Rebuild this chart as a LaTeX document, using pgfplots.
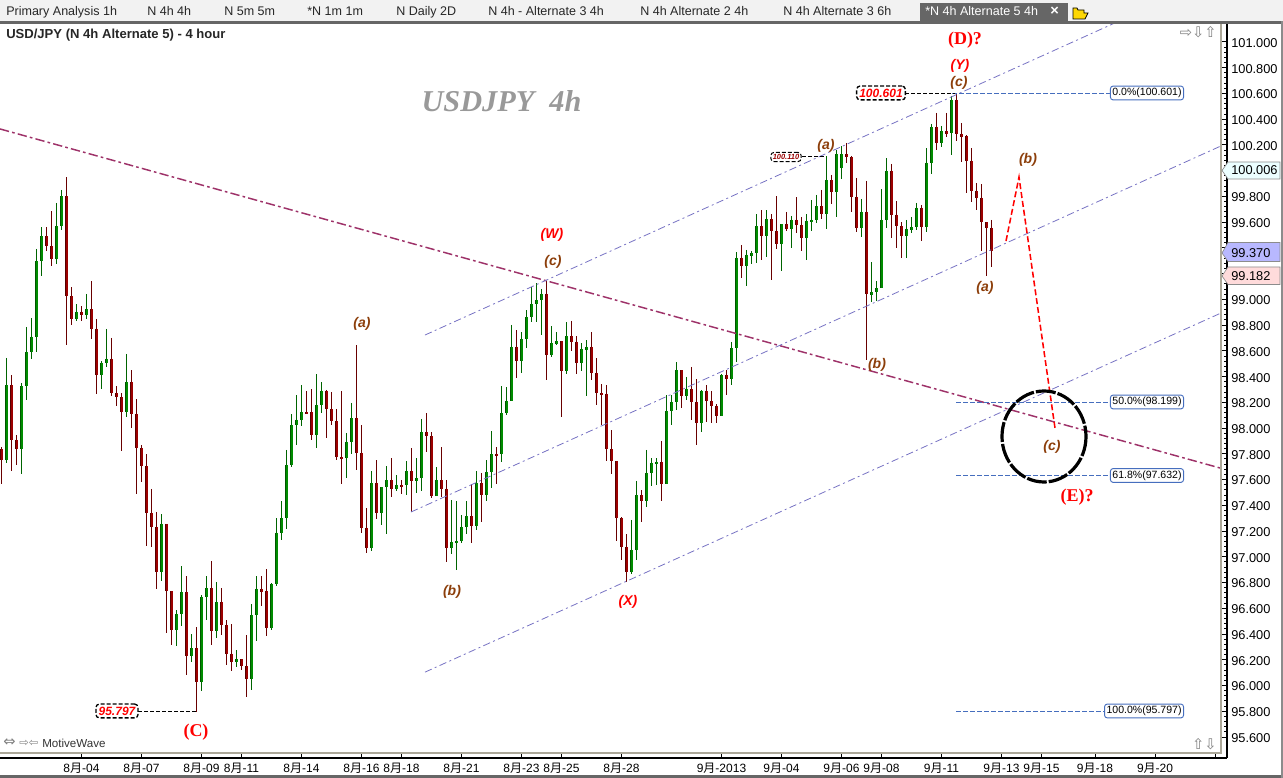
\documentclass[border=0pt]{standalone}
\usepackage{fontspec}
\setmainfont{Liberation Sans}
\newfontfamily\serif{Liberation Serif}
\newfontfamily\cjk{Noto Sans CJK SC}
\newfontfamily\sym{DejaVu Sans}
\usepackage{pgfplots}
\usepackage{pgfplotstable}
\pgfplotsset{compat=1.18}
\definecolor{gw}{RGB}{0,100,0}
\definecolor{gb}{RGB}{0,140,0}
\definecolor{gl}{RGB}{0,85,0}
\definecolor{rw}{RGB}{105,0,0}
\definecolor{rb}{RGB}{155,0,0}
\definecolor{rl}{RGB}{85,0,0}
\definecolor{maroon}{RGB}{158,50,105}
\definecolor{chan}{RGB}{118,114,195}
\definecolor{fib}{RGB}{70,110,190}
\definecolor{wave}{RGB}{140,62,10}
\definecolor{frame}{RGB}{172,168,153}
\newcommand{\M}{{\cjk 月}}
\pgfplotstableread{
x hi lo top bot
1 98.545 97.729 98.334 97.752
4 98.350 97.643 98.326 97.837
5 98.786 98.218 98.591 98.326
6 98.855 98.537 98.708 98.591
7 99.392 98.591 99.298 98.708
8 99.562 99.181 99.492 99.298
11 99.749 99.275 99.570 99.314
12 99.850 99.539 99.803 99.570
15 98.964 98.832 98.902 98.848
17 99.042 98.848 98.925 98.879
20 98.521 98.303 98.506 98.412
21 98.770 98.475 98.537 98.506
25 98.576 98.086 98.358 98.125
32 97.332 96.812 97.255 96.881
35 96.586 96.307 96.555 96.431
36 96.928 96.462 96.726 96.555
38 96.400 96.182 96.291 96.229
40 96.703 95.957 96.687 96.027
41 96.850 96.509 96.757 96.687
43 96.804 96.369 96.648 96.423
47 96.276 96.143 96.206 96.182
50 96.633 95.965 96.547 96.050
51 96.850 96.346 96.750 96.547
54 96.796 96.431 96.788 96.446
55 97.301 96.773 97.185 96.788
56 97.433 97.130 97.301 97.185
57 97.830 97.216 97.713 97.301
58 98.109 97.697 98.024 97.713
59 98.257 97.868 98.063 98.024
60 98.334 98.016 98.125 98.063
63 98.420 97.845 98.179 97.946
64 98.358 98.117 98.288 98.179
69 97.962 97.612 97.892 97.767
70 98.195 97.798 98.078 97.892
74 97.666 97.045 97.573 97.068
76 97.542 97.247 97.542 97.340
77 97.705 97.177 97.596 97.542
79 97.635 97.511 97.558 97.527
81 97.744 97.480 97.666 97.558
83 97.767 97.496 97.612 97.589
84 98.071 97.511 97.969 97.612
87 97.697 97.472 97.596 97.472
90 97.441 97.021 97.115 97.068
91 97.433 96.897 97.122 97.107
92 97.324 97.107 97.231 97.122
93 97.433 97.177 97.317 97.231
95 97.666 97.208 97.573 97.239
97 97.752 97.433 97.658 97.480
98 97.977 97.535 97.798 97.658
100 98.326 97.736 98.117 97.798
101 98.319 98.101 98.210 98.117
102 98.801 98.210 98.630 98.210
104 98.746 98.428 98.692 98.521
105 98.917 98.622 98.863 98.692
106 99.096 98.824 98.964 98.863
107 99.127 98.824 98.995 98.964
108 99.081 98.723 99.042 98.995
110 98.793 98.552 98.661 98.568
111 98.746 98.645 98.676 98.653
113 98.824 98.420 98.715 98.443
116 98.661 98.443 98.614 98.506
117 98.684 98.249 98.630 98.607
126 97.286 96.866 97.053 96.881
127 97.589 96.975 97.480 97.053
129 97.830 97.387 97.651 97.433
130 97.767 97.550 97.729 97.651
131 97.767 97.558 97.736 97.721
133 98.257 97.565 98.132 97.565
134 98.257 98.024 98.202 98.132
135 98.513 98.140 98.451 98.202
137 98.397 98.218 98.303 98.249
140 98.296 97.969 98.288 98.039
144 98.420 98.094 98.412 98.094
146 98.669 98.334 98.622 98.381
147 99.368 98.513 99.322 98.622
149 99.384 99.104 99.345 99.259
150 99.376 99.275 99.360 99.337
151 99.663 99.283 99.570 99.360
153 99.694 99.329 99.624 99.492
156 99.585 99.220 99.585 99.430
158 99.648 99.399 99.617 99.547
161 99.663 99.306 99.609 99.477
162 99.772 99.531 99.617 99.601
163 99.811 99.593 99.725 99.617
165 100.114 99.547 99.927 99.663
167 100.160 99.640 100.129 99.834
168 100.191 99.935 100.129 100.021
172 99.780 99.485 99.679 99.555
174 99.290 98.980 99.057 99.034
175 99.142 98.987 99.088 99.057
176 99.857 99.088 99.617 99.088
177 100.098 99.555 99.997 99.617
181 99.617 99.321 99.547 99.492
182 99.640 99.516 99.562 99.539
183 99.749 99.539 99.710 99.562
185 100.176 99.523 100.060 99.562
186 100.363 99.974 100.339 100.060
188 100.347 100.184 100.308 100.215
190 100.580 100.122 100.549 100.292
}\greens
\pgfplotstableread{
x hi lo top bot
0 97.853 97.565 97.837 97.752
2 98.412 97.666 98.334 97.907
3 97.946 97.713 97.907 97.837
9 99.562 99.376 99.492 99.414
10 99.686 99.259 99.414 99.314
13 99.950 98.645 99.803 99.026
14 99.096 98.801 99.026 98.848
16 98.948 98.832 98.902 98.879
18 99.142 98.692 98.925 98.770
19 98.848 98.265 98.770 98.412
22 98.700 98.249 98.537 98.272
23 98.326 98.171 98.272 98.241
24 98.272 97.822 98.241 98.125
26 98.451 98.000 98.358 98.109
27 98.226 97.488 98.109 97.845
28 97.868 97.581 97.845 97.705
29 97.798 97.083 97.705 97.340
30 97.527 97.076 97.340 97.231
31 97.348 96.750 97.231 96.881
33 97.255 96.408 97.255 96.734
34 96.734 96.315 96.734 96.431
37 96.850 96.081 96.726 96.229
39 96.454 95.797 96.291 96.027
42 96.967 96.315 96.757 96.423
44 96.757 96.392 96.648 96.470
45 96.509 96.159 96.470 96.245
46 96.478 96.112 96.245 96.182
48 96.206 96.120 96.206 96.151
49 96.392 95.910 96.151 96.050
52 96.850 96.617 96.750 96.726
53 96.905 96.384 96.734 96.446
61 98.288 98.109 98.125 98.109
62 98.303 97.907 98.125 97.946
65 98.296 97.923 98.288 98.148
66 98.280 98.024 98.148 98.055
67 98.148 97.752 98.055 97.775
68 98.288 97.565 97.775 97.760
71 98.645 97.674 98.078 97.806
72 98.024 97.185 97.806 97.224
73 97.379 97.029 97.224 97.068
75 97.752 97.294 97.573 97.340
78 97.767 97.464 97.596 97.527
80 97.596 97.488 97.558 97.542
82 97.845 97.348 97.666 97.589
85 98.117 97.814 97.969 97.938
86 97.969 97.457 97.938 97.472
88 97.853 97.464 97.596 97.527
89 97.596 96.959 97.527 97.068
94 97.565 97.107 97.317 97.239
96 97.651 97.270 97.573 97.480
99 97.853 97.565 97.798 97.783
103 98.762 98.389 98.630 98.521
109 99.142 98.373 99.042 98.568
112 98.676 98.086 98.676 98.443
114 98.832 98.599 98.715 98.669
115 98.715 98.420 98.669 98.506
118 98.746 98.373 98.630 98.428
119 98.544 98.179 98.428 98.272
120 98.342 98.024 98.272 98.257
121 98.334 97.744 98.265 97.837
122 97.985 97.643 97.837 97.744
123 97.744 97.122 97.744 97.301
124 97.309 96.975 97.301 97.076
125 97.177 96.804 97.076 96.881
128 97.519 97.270 97.480 97.433
132 97.899 97.433 97.736 97.565
136 98.451 98.156 98.451 98.249
138 98.475 98.063 98.303 98.202
139 98.381 97.868 98.202 98.039
141 98.334 98.047 98.288 98.210
142 98.288 98.039 98.210 98.171
143 98.187 98.039 98.171 98.094
145 98.451 98.257 98.412 98.381
148 99.422 99.166 99.322 99.259
152 99.694 99.306 99.570 99.492
154 99.663 99.150 99.624 99.531
155 99.803 99.391 99.531 99.430
157 99.679 99.531 99.585 99.547
159 99.795 99.516 99.617 99.578
160 99.640 99.376 99.578 99.477
164 99.850 99.624 99.725 99.663
166 99.967 99.741 99.927 99.834
169 100.215 100.060 100.129 100.106
170 100.114 99.679 100.106 99.795
171 99.943 99.523 99.795 99.555
173 99.920 98.529 99.679 99.042
178 100.052 99.477 99.997 99.656
179 99.764 99.399 99.656 99.570
180 99.601 99.321 99.570 99.492
184 99.733 99.454 99.710 99.562
187 100.448 100.160 100.339 100.215
189 100.448 100.261 100.308 100.285
191 100.601 100.230 100.549 100.285
192 100.370 100.067 100.285 100.261
193 100.277 99.826 100.269 100.075
194 100.176 99.756 100.075 99.842
195 99.904 99.694 99.842 99.788
196 99.896 99.376 99.788 99.601
197 99.601 99.181 99.601 99.555
198 99.617 99.252 99.555 99.376
}\reds
\newcommand{\candles}[4]{%
 \addplot[draw=none,mark=none,forget plot,error bars/.cd,y dir=minus,y explicit,error mark=none,
   error bar style={solid,draw=#2,line width=0.75pt}] table[x=x,y=hi,y error expr=\thisrow{hi}-\thisrow{lo}] {#1};
 \addplot[draw=none,mark=none,forget plot,error bars/.cd,y dir=minus,y explicit,error mark=none,
   error bar style={solid,draw=#3,line width=2.5pt}] table[x=x,y=top,y error expr=\thisrow{top}-\thisrow{bot}] {#1};
 \addplot[draw=none,mark=none,forget plot,error bars/.cd,y dir=minus,y explicit,error mark=none,
   error bar style={solid,draw=#4,line width=0.8pt,xshift=-0.85pt}] table[x=x,y=top,y error expr=\thisrow{top}-\thisrow{bot}] {#1};
}
\tikzset{
 chanl/.style={chan,line width=0.6pt,dash pattern=on 5.5pt off 2.5pt on 1.5pt off 2.5pt},
 fibl/.style={fib,line width=0.75pt,dash pattern=on 3.75pt off 1.5pt},
 calll/.style={black,line width=1pt,dash pattern=on 3pt off 1.5pt},
 px/.style={x=0.75pt,y=-0.75pt,shift={(0pt,568.5pt)}},
 brown lab/.style={wave,font=\fontsize{10.5}{12}\selectfont\bfseries\itshape},
 redi lab/.style={red,font=\fontsize{10.5}{12}\selectfont\bfseries\itshape},
 reds lab/.style={red,font=\fontsize{13.5}{15}\selectfont\serif\bfseries},
 tab/.style={anchor=west,inner sep=0pt,text height=7pt,text depth=2pt,font=\fontsize{9.4}{11}\selectfont,text=black!85},
 fibbox/.style={draw=fib,fill=white,rounded corners=2pt,line width=0.7pt,inner xsep=1.5pt,inner ysep=1.5pt,font=\fontsize{7.9}{9}\selectfont,text=black},
 callbox/.style={draw=black,fill=white,rounded corners=2.5pt,line width=1pt,dash pattern=on 3pt off 1.5pt,inner xsep=2pt,inner ysep=2pt,text=red,font=\fontsize{9}{11}\selectfont\bfseries\itshape},
}
\begin{document}
\begin{tikzpicture}
\useasboundingbox (0pt,-15pt) rectangle (962.25pt,568.5pt);
\begin{axis}[
 at={(0pt,0pt)},anchor=south west,scale only axis,
 width=920.25pt,height=552pt,
 xmin=-0.3,xmax=245.1,ymin=95.437,ymax=101.155,
 axis x line=bottom,axis y line=right,axis line style={-,line width=0.9pt,black},
 tick align=inside,tick style={black,line width=0.75pt},
 major tick length=4.5pt,minor tick length=2.25pt,
 xtick={16,28,40,48,60,72,80,92,104,112,124,144,156,168,176,188,200,208,218.7,230.7,242.7},
 xticklabels={8\M-04,8\M-07,8\M-09,8\M-11,8\M-14,8\M-16,8\M-18,8\M-21,8\M-23,8\M-25,8\M-28,9\M-2013,9\M-04,9\M-06,9\M-08,9\M-11,9\M-13,9\M-15,9\M-18,9\M-20,{}},
 x tick label style={font=\fontsize{9}{10}\selectfont,inner sep=0pt,yshift=-3.5pt},
 ytick={95.6,95.8,96.0,96.2,96.4,96.6,96.8,97.0,97.2,97.4,97.6,97.8,98.0,98.2,98.4,98.6,98.8,99.0,99.2,99.4,99.6,99.8,100.0,100.2,100.4,100.6,100.8,101.0},
 minor y tick num=4,
 scaled y ticks=false,
 y tick label style={font=\fontsize{9.6}{11}\selectfont,inner sep=0pt,xshift=3pt,yshift=-0.75pt,
   /pgf/number format/.cd,fixed,fixed zerofill,precision=3,assume math mode=true},
 clip=true,
]
\candles{\greens}{gw}{gb}{gl}
\candles{\reds}{rw}{rb}{rl}
% trend lines
\addplot[maroon,line width=1.1pt,dash pattern=on 7pt off 2.4pt on 2pt off 2.4pt,forget plot] coordinates {(-0.3,100.324) (243.7,97.690)};
\addplot[chanl,forget plot] coordinates {(84.7,98.723) (223.1,101.155)};
\addplot[chanl,forget plot] coordinates {(81.9,97.348) (243.9,100.192)};
\addplot[chanl,forget plot] coordinates {(84.7,96.104) (243.9,98.894)};
% wave projection
\addplot[red,line width=1.15pt,dash pattern=on 4.5pt off 2.2pt,forget plot] coordinates {(200.9,99.453) (203.5,99.950) (210.7,98.000)};
% fibonacci levels
\addplot[fibl,forget plot] coordinates {(190.1,100.601) (221.9,100.601)};
\addplot[fibl,forget plot] coordinates {(190.9,98.199) (221.9,98.199)};
\addplot[fibl,forget plot] coordinates {(190.9,97.632) (221.9,97.632)};
\addplot[fibl,forget plot] coordinates {(190.9,95.797) (220.7,95.797)};
% callout leaders
\addplot[calll,forget plot] coordinates {(180.7,100.601) (190.7,100.601)};
\addplot[calll,forget plot] coordinates {(27.3,95.797) (38.9,95.797)};
\addplot[calll,line width=0.75pt,forget plot] coordinates {(160.1,100.110) (164.7,100.110)};
\end{axis}
\begin{scope}[px]
% frame
\draw[frame,line width=1pt] (1221,24)--(1221,753)--(0,753);
% bars
\fill[black!5] (0,0) rectangle (1283,21);
\fill[black!60] (0,21) rectangle (1283,24);
\fill[black!60] (920,3) rectangle (1068,21);
\fill[black!60] (0,775) rectangle (1283,778);
\fill[black!45] (1281,21) rectangle (1283,778);
\node[tab] at (6,12) {Primary Analysis 1h};
\node[tab] at (147,12) {N 4h 4h};
\node[tab] at (224,12) {N 5m 5m};
\node[tab] at (307,12) {*N 1m 1m};
\node[tab] at (396,12) {N Daily 2D};
\node[tab] at (488,12) {N 4h - Alternate 3 4h};
\node[tab] at (640,12) {N 4h Alternate 2 4h};
\node[tab] at (783,12) {N 4h Alternate 3 6h};
\node[tab,text=white] at (925,12) {*N 4h Alternate 5 4h};
\node[tab,text=white,font=\fontsize{11}{11}\selectfont\bfseries] at (1050,12) {×};
\filldraw[fill=yellow!75!orange,draw=black,line width=0.6pt] (1073,19)--(1073,8)--(1077,8)--(1078,10)--(1084,10)--(1084,13)--(1088,13)--(1085,19)--cycle;
% title and watermarks
\node[anchor=west,inner sep=0pt,font=\fontsize{9.8}{11}\selectfont\bfseries,text=black!85] at (6,35) {USD/JPY (N 4h Alternate 5) - 4 hour};
\node[inner sep=0pt,text=black!40,font=\fontsize{22.7}{24}\selectfont\serif\bfseries\itshape] at (501.5,101) {USDJPY\ \ 4h};
\node[anchor=west,inner sep=0pt,font=\fontsize{8.7}{10}\selectfont,text=black!80] at (42,743) {MotiveWave};
\node[anchor=west,inner sep=0pt,font=\fontsize{11}{13}\selectfont\sym,text=black!50] at (3,743) {⇔};
\node[anchor=west,inner sep=0pt,font=\fontsize{8.5}{12}\selectfont\sym,text=black!50] at (19,743) {⇨⇦};
\node[anchor=east,inner sep=0pt,font=\fontsize{11}{12}\selectfont\sym,text=black!50] at (1217,32) {⇨⇩⇧};
\node[anchor=east,inner sep=0pt,font=\fontsize{11}{12}\selectfont\sym,text=black!50] at (1217,744) {⇧⇩};
% wave labels
\node[reds lab] at (965,40) {(D)?};
\node[redi lab] at (960,66) {(Y)};
\node[brown lab] at (959,83) {(c)};
\node[brown lab] at (826,146) {(a)};
\node[brown lab] at (1028,160) {(b)};
\node[brown lab] at (985,288) {(a)};
\node[brown lab] at (877,365) {(b)};
\node[brown lab] at (1052,447) {(c)};
\node[reds lab] at (1077,497) {(E)?};
\node[redi lab] at (552,235) {(W)};
\node[brown lab] at (553,262) {(c)};
\node[brown lab] at (362,324) {(a)};
\node[brown lab] at (452,592) {(b)};
\node[redi lab] at (628,602) {(X)};
\node[reds lab] at (196,732) {(C)};
% circle
\draw[black,line width=2.4pt,dash pattern=on 15pt off 1.5pt] (1044,436.5) ellipse [x radius=42,y radius=45.5];
% fib tags
\node[fibbox,anchor=east] at (1184,93) {0.0\%(100.601)};
\node[fibbox,anchor=east] at (1184,402) {50.0\%(98.199)};
\node[fibbox,anchor=east] at (1184,475.5) {61.8\%(97.632)};
\node[fibbox,anchor=east] at (1184,711) {100.0\%(95.797)};
% callout boxes
\node[callbox] at (881,93) {100.601};
\node[callbox] at (117,711) {95.797};
\node[callbox,text=rb,line width=0.75pt,inner xsep=1.5pt,inner ysep=1.5pt,font=\fontsize{5.6}{7}\selectfont\bfseries\itshape] at (786,157) {100.110};
% price tags
\filldraw[fill=blue!6!cyan!8!white,draw=black!45,line width=0.5pt] (1222,170.5)--(1228,162)--(1280,162)--(1280,179)--(1228,179)--cycle;
\node[anchor=west,inner sep=0pt,font=\fontsize{9.6}{11}\selectfont] at (1231,170.5) {100.006};
\filldraw[fill=blue!28!white,draw=black!45,line width=0.5pt] (1222,253)--(1228,242.5)--(1280,242.5)--(1280,261.5)--(1228,261.5)--cycle;
\node[anchor=west,inner sep=0pt,font=\fontsize{9.6}{11}\selectfont] at (1231,253) {99.370};
\filldraw[fill=red!14!white,draw=black!45,line width=0.5pt] (1222,276)--(1228,267)--(1280,267)--(1280,284.5)--(1228,284.5)--cycle;
\node[anchor=west,inner sep=0pt,font=\fontsize{9.6}{11}\selectfont] at (1231,276) {99.182};
\end{scope}
\end{tikzpicture}
\end{document}
